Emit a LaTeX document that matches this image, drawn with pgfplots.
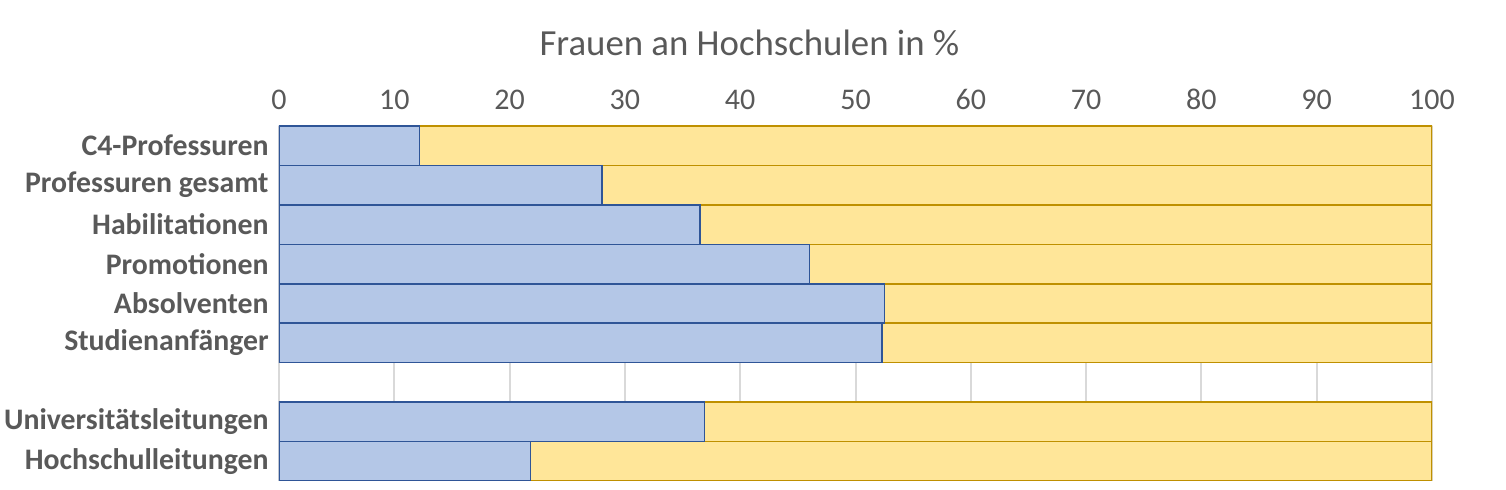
\documentclass[border=0pt]{standalone}
\usepackage{pgfplots}
\pgfplotsset{compat=1.18}
\usepackage{fontspec}
\setmainfont{Carlito}
\definecolor{fblue}{HTML}{B4C7E7}
\definecolor{bdark}{HTML}{2F5597}
\definecolor{fyel}{HTML}{FFE699}
\definecolor{ydark}{HTML}{BF9000}
\definecolor{txtgray}{HTML}{595959}
\definecolor{gridgray}{HTML}{D9D9D9}
\begin{document}
\begin{tikzpicture}
\begin{axis}[
  scale only axis,
  width=576.5pt, height=177.5pt,
  xbar stacked, bar width=1,
  xmin=0, xmax=100,
  ymin=-0.5, ymax=8.5, y dir=reverse,
  xtick={0,10,...,100},
  xticklabel pos=upper,
  xmajorgrids,
  grid style={draw=gridgray, line width=1pt},
  axis line style={draw=none},
  major tick length=0,
  ytick={0,1,2,3,4,5,7,8},
  yticklabels={C4-Professuren,Professuren gesamt,Habilitationen,Promotionen,Absolventen,Studienanfänger,Universitätsleitungen,Hochschulleitungen},
  yticklabel style={font=\fontsize{14.9}{17}\selectfont\bfseries, text=txtgray, inner sep=0pt, xshift=-5pt},
  xticklabel style={font=\fontsize{15}{17}\selectfont, text=txtgray, anchor=base, yshift=8pt},
  /pgf/number format/assume math mode=true,
  title={Frauen an Hochschulen in \%},
  title style={font=\fontsize{18.4}{21}\selectfont, text=txtgray, at={(0.5,1)}, anchor=base, yshift=29pt, xshift=-53pt},
]
% Frauenanteil
\addplot[fill=fblue, draw=bdark, line width=0.75pt] coordinates {
  (12.2,0) (28.0,1) (36.5,2) (46.0,3) (52.5,4) (52.3,5) (36.9,7) (21.8,8)
};
% Rest bis 100
\addplot[fill=fyel, draw=ydark, line width=0.75pt] coordinates {
  (87.8,0) (72.0,1) (63.5,2) (54.0,3) (47.5,4) (47.7,5) (63.1,7) (78.2,8)
};
\end{axis}
\pgfresetboundingbox
\path[use as bounding box] ([xshift=-139.5pt,yshift=63pt]current axis.north west) rectangle ([xshift=37pt,yshift=-4.5pt]current axis.south east);
\end{tikzpicture}
\end{document}
